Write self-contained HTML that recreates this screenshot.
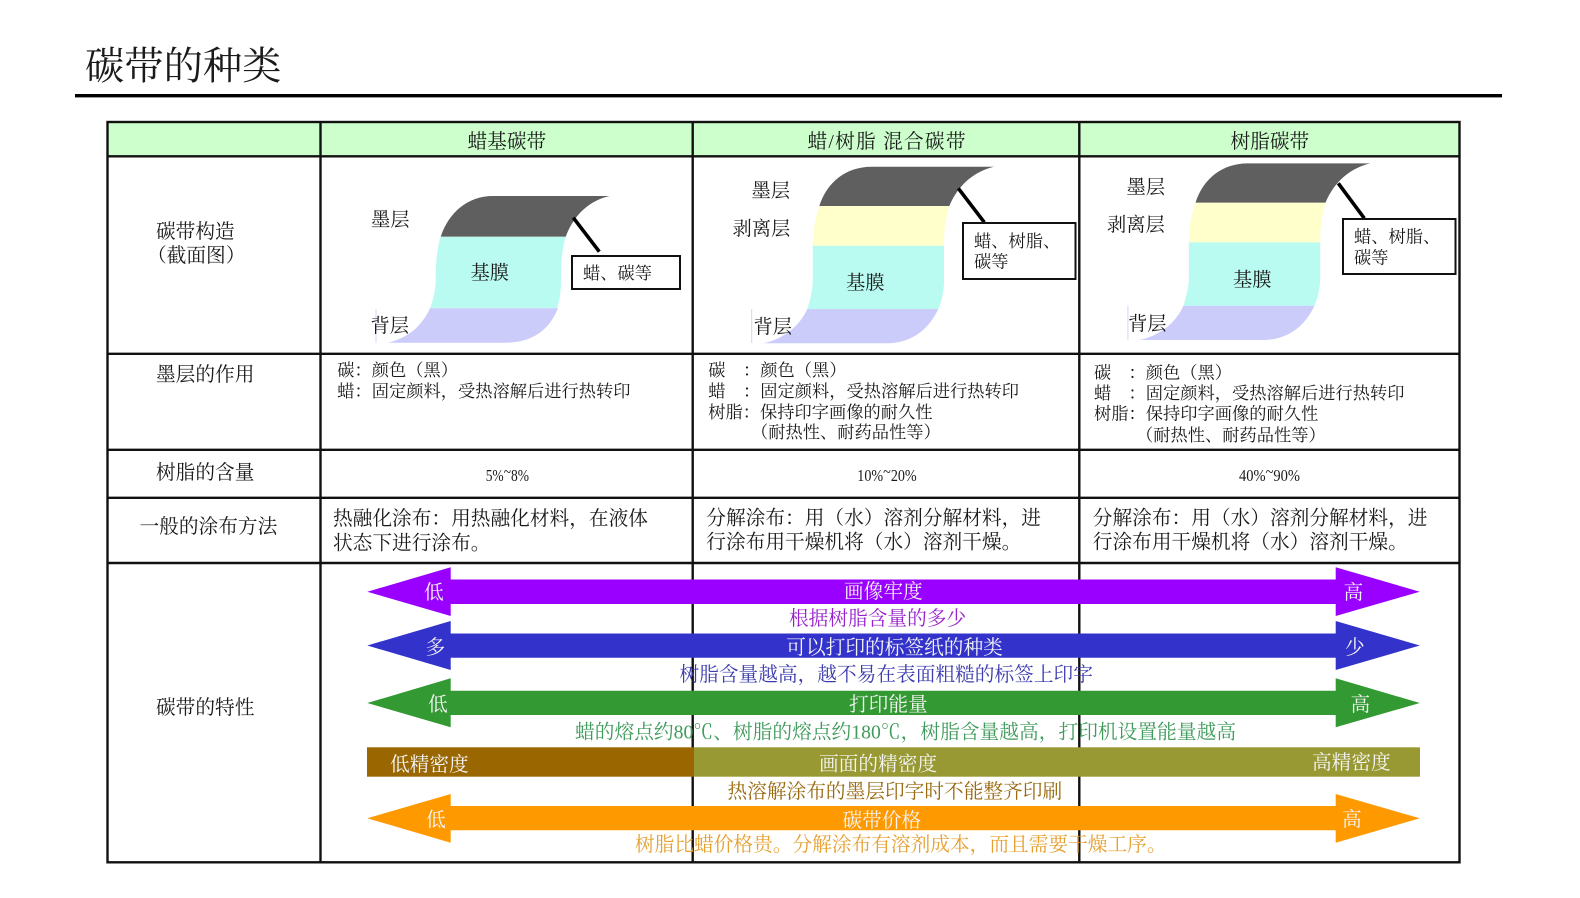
<!DOCTYPE html>
<html lang="zh">
<head>
<meta charset="utf-8">
<title>碳带的种类</title>
<style>
html,body{margin:0;padding:0;background:#fff;width:1580px;height:898px;overflow:hidden}
svg{display:block}
text{font-family:"Liberation Serif","Noto Serif CJK SC",serif;fill:#1a1a1a;font-size:19.7px}
.s{font-size:17.25px}
.l{font-size:19.3px}
.w{fill:#f4f4f4}
.t{fill:none;stroke:#111;stroke-width:2.4}
</style>
</head>
<body>
<svg width="1580" height="898" viewBox="0 0 1580 898" xmlns="http://www.w3.org/2000/svg">
<rect width="1580" height="898" fill="#fff"/>
<text x="85" y="79.5" style="font-size:39.3px" fill="#111">碳带的种类</text>
<rect x="75" y="94" width="1427" height="3.4" fill="#000"/>

<!-- table -->
<rect x="107.5" y="122" width="1352" height="34" fill="#ccffcc"/>
<rect class="t" x="107.5" y="122" width="1352" height="740.3"/>
<path class="t" d="M107.5 156.3H1459.5M107.5 353.8H1459.5M107.5 449.8H1459.5M107.5 497.8H1459.5M107.5 563H1459.5M320.5 122V862.3M692.7 122V862.3M1079.3 122V862.3"/>

<!-- header -->
<text x="467.5" y="148">蜡基碳带</text>
<text x="807.5" y="148" textLength="158">蜡/树脂 混合碳带</text>
<text x="1230.5" y="148">树脂碳带</text>

<!-- left column -->
<text x="156" y="238">碳带构造</text>
<text x="147" y="262">（截面图）</text>
<text x="156" y="381">墨层的作用</text>
<text x="156" y="479">树脂的含量</text>
<text x="139.5" y="533">一般的涂布方法</text>
<text x="156" y="714">碳带的特性</text>

<!-- diagram 1 -->
<path d="M376 309.3V343" stroke="#d4d4f6" stroke-width="1" fill="none"/>
<path d="M440.7 236.7C449 212 468 196 493 196L609.5 196C592 200 575 212 565.7 236.7Z" fill="#5f5f5f"/>
<path d="M440.7 236.7H565.7C562 248 561 262 561 280C561 290 560 300 557 308.3H430C433 300 435.7 290 435.7 280C435.7 262 437 248 440.7 236.7Z" fill="#b9fbf0"/>
<path d="M430 308.3H558C549 331 531 342.7 506 342.7H388.3C408 338 422 326 430 308.3Z" fill="#ccccfb"/>
<path d="M573.3 217.7L599.3 251.7" stroke="#000" stroke-width="3.6" fill="none"/>
<rect x="572" y="256" width="108" height="33" fill="#fff" stroke="#111" stroke-width="2"/>
<text class="s" x="583" y="279">蜡、碳等</text>
<text class="l" x="371" y="226">墨层</text>
<text class="l" x="470.5" y="279">基膜</text>
<text class="l" x="370.5" y="332">背层</text>

<!-- diagram 2 -->
<path d="M751.7 309V343" stroke="#d4d4f6" stroke-width="1" fill="none"/>
<path d="M819.3 206C827 182 846 166.7 871.7 166.7L994 166.7C976 171 959 183 949.3 206Z" fill="#5f5f5f"/>
<path d="M819.3 206H949.3C945.5 218 944 232 944 245.7H812.7C812.7 232 815 218 819.3 206Z" fill="#ffffcc"/>
<path d="M812.7 245.7H944V281.7C944 290 942 300 938.3 309H807.3C810 300 812.7 290 812.7 281.7Z" fill="#b9fbf0"/>
<path d="M807.3 309H938.3C928 331 910 343.3 886.7 343.3H763.3C783 339 799 327 807.3 309Z" fill="#ccccfb"/>
<path d="M958.3 188.3L984.3 222.3" stroke="#000" stroke-width="3.6" fill="none"/>
<rect x="963" y="223" width="112.5" height="56" fill="#fff" stroke="#111" stroke-width="2"/>
<text class="s" x="974" y="247">蜡、树脂、</text>
<text class="s" x="974" y="267.5">碳等</text>
<text class="l" x="751.5" y="197">墨层</text>
<text class="l" x="732.5" y="235">剥离层</text>
<text class="l" x="846" y="289">基膜</text>
<text class="l" x="753.5" y="333">背层</text>

<!-- diagram 3 -->
<g transform="translate(376.2,-3.3)">
<path d="M751.7 309V343" stroke="#d4d4f6" stroke-width="1" fill="none"/>
<path d="M819.3 206C827 182 846 166.7 871.7 166.7L994 166.7C976 171 959 183 949.3 206Z" fill="#5f5f5f"/>
<path d="M819.3 206H949.3C945.5 218 944 232 944 245.7H812.7C812.7 232 815 218 819.3 206Z" fill="#ffffcc"/>
<path d="M812.7 245.7H944V281.7C944 290 942 300 938.3 309H807.3C810 300 812.7 290 812.7 281.7Z" fill="#b9fbf0"/>
<path d="M807.3 309H938.3C928 331 910 343.3 886.7 343.3H763.3C783 339 799 327 807.3 309Z" fill="#ccccfb"/>
</g>
<path d="M1338.3 183.3L1364.3 218.3" stroke="#000" stroke-width="3.6" fill="none"/>
<rect x="1343" y="219" width="112.5" height="55" fill="#fff" stroke="#111" stroke-width="2"/>
<text class="s" x="1354" y="242.5">蜡、树脂、</text>
<text class="s" x="1354" y="263.5">碳等</text>
<text class="l" x="1126.5" y="193.5">墨层</text>
<text class="l" x="1107" y="231">剥离层</text>
<text class="l" x="1233" y="286">基膜</text>
<text class="l" x="1128" y="330">背层</text>

<!-- ink row -->
<text class="s" x="337.3" y="376">碳：颜色（黑）</text>
<text class="s" x="337.3" y="397">蜡：固定颜料，受热溶解后进行热转印</text>

<text class="s" x="708.3" y="376">碳</text><text class="s" x="743" y="376">：</text><text class="s" x="760.2" y="376">颜色（黑）</text>
<text class="s" x="708.3" y="397">蜡</text><text class="s" x="743" y="397">：</text><text class="s" x="760.2" y="397">固定颜料，受热溶解后进行热转印</text>
<text class="s" x="708.3" y="418">树脂：保持印字画像的耐久性</text>
<text class="s" x="751" y="438">（耐热性、耐药品性等）</text>

<text class="s" x="1094" y="378.5">碳</text><text class="s" x="1128.5" y="378.5">：</text><text class="s" x="1145.7" y="378.5">颜色（黑）</text>
<text class="s" x="1094" y="399">蜡</text><text class="s" x="1128.5" y="399">：</text><text class="s" x="1145.7" y="399">固定颜料，受热溶解后进行热转印</text>
<text class="s" x="1094" y="419.5">树脂：保持印字画像的耐久性</text>
<text class="s" x="1136" y="441">（耐热性、耐药品性等）</text>

<!-- percentages -->
<text x="485.7" y="481" textLength="43.3" lengthAdjust="spacingAndGlyphs" style="font-size:17px">5%<tspan dy="-4">~</tspan><tspan dy="4">8%</tspan></text>
<text x="857.3" y="481" textLength="59.4" lengthAdjust="spacingAndGlyphs" style="font-size:17px">10%<tspan dy="-4">~</tspan><tspan dy="4">20%</tspan></text>
<text x="1239" y="481" textLength="61" lengthAdjust="spacingAndGlyphs" style="font-size:17px">40%<tspan dy="-4">~</tspan><tspan dy="4">90%</tspan></text>

<!-- method -->
<text x="333" y="525">热融化涂布：用热融化材料，在液体</text>
<text x="333" y="549.5">状态下进行涂布。</text>
<text x="706.3" y="524.5">分解涂布：用（水）溶剂分解材料，进</text>
<text x="706.3" y="548.5">行涂布用干燥机将（水）溶剂干燥。</text>
<text x="1092.8" y="524.5">分解涂布：用（水）溶剂分解材料，进</text>
<text x="1092.8" y="548.5">行涂布用干燥机将（水）溶剂干燥。</text>

<!-- bars -->
<polygon points="367.3,591.7 450.7,567.3 450.7,579.5 1335.7,579.5 1335.7,567.3 1419.8,591.7 1335.7,616 1335.7,604 450.7,604 450.7,616" fill="#9900ff"/>
<polygon points="367.3,645.5 450.7,621 450.7,633.5 1335.7,633.5 1335.7,621 1419.8,645.5 1335.7,670 1335.7,657.7 450.7,657.7 450.7,670" fill="#3333cc"/>
<polygon points="367.3,703 450.7,678.3 450.7,690.7 1335.7,690.7 1335.7,678.3 1419.8,703 1335.7,727.3 1335.7,715 450.7,715 450.7,727.3" fill="#339933"/>
<rect x="367" y="747.3" width="327" height="29.4" fill="#996600"/>
<rect x="694" y="747.3" width="726" height="29.4" fill="#999933"/>
<polygon points="367.3,818.3 450.7,794 450.7,806 1335.7,806 1335.7,794 1419.8,818.3 1335.7,842.7 1335.7,830.3 450.7,830.3 450.7,842.7" fill="#ff9900"/>

<text class="w" x="424" y="599">低</text>
<text class="w" x="844" y="598">画像牢度</text>
<text class="w" x="1343.5" y="599">高</text>
<text x="789" y="625" style="fill:#9922cc">根据树脂含量的多少</text>

<text class="w" x="425.5" y="654">多</text>
<text class="w" x="786.3" y="654">可以打印的标签纸的种类</text>
<text class="w" x="1345" y="654">少</text>
<text x="679.5" y="681" style="fill:#3c3cae">树脂含量越高，越不易在表面粗糙的标签上印字</text>

<text class="w" x="428" y="711">低</text>
<text class="w" x="849" y="711">打印能量</text>
<text class="w" x="1350.5" y="711">高</text>
<text x="575" y="738.5" textLength="661" style="fill:#3f9a5c">蜡的熔点约80℃、树脂的熔点约180℃，树脂含量越高，打印机设置能量越高</text>

<text class="w" x="390" y="771">低精密度</text>
<text class="w" x="819" y="770.5">画面的精密度</text>
<text class="w" x="1312" y="769">高精密度</text>
<text x="727.5" y="798" style="fill:#996a10">热溶解涂布的墨层印字时不能整齐印刷</text>

<text class="w" x="426" y="826.5">低</text>
<text class="w" x="842.5" y="827">碳带价格</text>
<text class="w" x="1342" y="826">高</text>
<text x="635" y="851" style="fill:#e6a030">树脂比蜡价格贵。分解涂布有溶剂成本，而且需要干燥工序。</text>
</svg>
</body>
</html>
